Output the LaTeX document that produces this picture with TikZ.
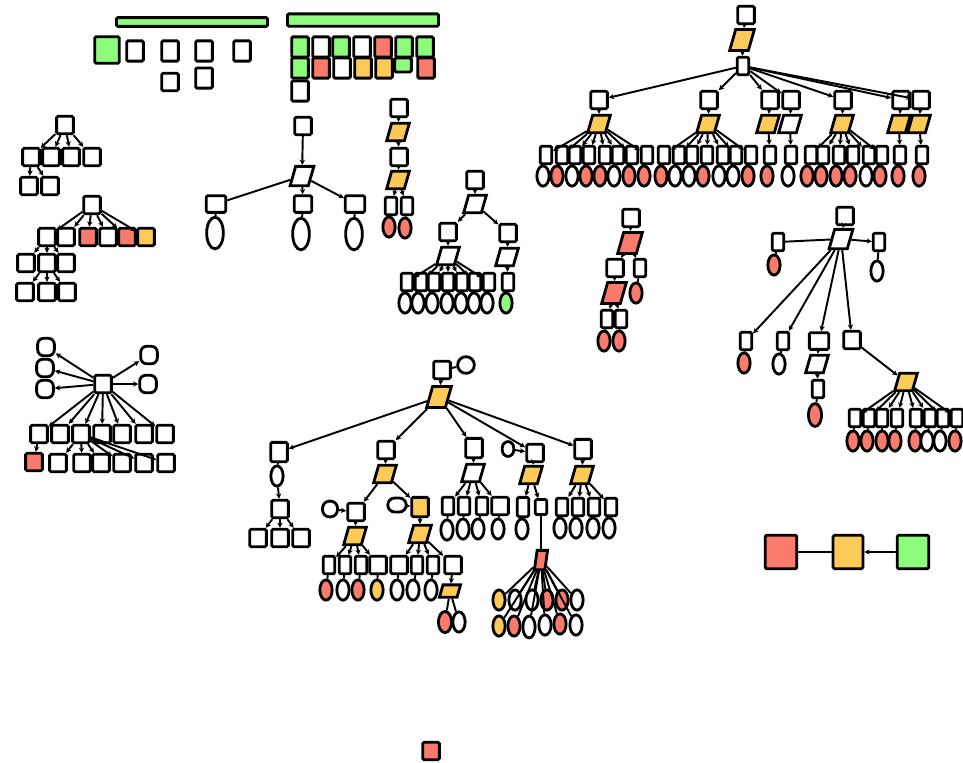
\documentclass[tikz,border=0pt]{standalone}
\usepackage{tikz}
\usetikzlibrary{shapes.geometric, arrows.meta}

\definecolor{cred}{HTML}{FA7B6C}
\definecolor{cyel}{HTML}{FDCA57}
\definecolor{cgrn}{HTML}{8CFC7A}

\tikzset{
  box/.style={draw, fill=white, line width=1.6pt, rounded corners=0.8pt, minimum width=9.5pt, minimum height=10pt, inner sep=0pt},
  nbox/.style={box, minimum width=6.5pt},
  rbox/.style={box, rounded corners=3.5pt},
  para/.style={draw, fill=white, line width=1.6pt, trapezium, trapezium left angle=74, trapezium right angle=106, minimum width=0pt, minimum height=0pt, inner xsep=3.6pt, inner ysep=5pt},
  ell/.style={draw, fill=white, line width=1.6pt, ellipse, minimum width=7pt, minimum height=11.5pt, inner sep=0pt},
  bigell/.style={ell, minimum width=9.5pt, minimum height=18pt},
  bar/.style={draw, fill=cgrn, line width=1.6pt, rounded corners=0.8pt, inner sep=0pt},
  conn/.style={line width=1.1pt, -{Stealth[length=3pt,width=3pt]}},
  plain/.style={line width=1.1pt}
}

\begin{document}
\begin{tikzpicture}[x=0.02cm, y=-0.02cm]

    \useasboundingbox (0,0) rectangle (963,762);

    % legend at the top
    \node [bar, minimum width=86pt, minimum height=5pt] (b1) at (192,22) {};
    \node [bar, minimum width=86pt, minimum height=7pt] (b2) at (363,20) {};
    \node [box, fill=cgrn, minimum width=14pt, minimum height=15pt] (a0) at (107,50) {};
    \node [box, minimum height=11.5pt] (a1) at (135,51) {};
    \node [box, minimum height=11.5pt] (a2) at (170,51) {};
    \node [box, minimum height=11.5pt] (a3) at (204,51) {};
    \node [box, minimum height=11.5pt] (a4) at (242,51) {};
    \node [box, minimum height=10pt] (a5) at (170,82) {};
    \node [box, minimum height=11.5pt] (a6) at (204,78) {};

    \node [box, fill=cgrn, minimum height=11.5pt] (s1) at (300,47) {};
    \node [box, minimum height=11.5pt] (s2) at (321,47) {};
    \node [box, fill=cgrn, minimum height=11.5pt] (s3) at (341,47) {};
    \node [box, minimum height=11.5pt] (s4) at (362,47) {};
    \node [box, fill=cred, minimum height=11.5pt] (s5) at (383,47) {};
    \node [box, fill=cgrn, minimum height=11.5pt] (s6) at (404,47) {};
    \node [box, fill=cgrn, minimum height=11.5pt] (s7) at (425,47) {};
    \node [box, fill=cgrn, minimum height=11.5pt] (s8) at (300,68) {};
    \node [box, fill=cred, minimum height=11.5pt] (s9) at (321,68) {};
    \node [box, minimum height=11.5pt] (s10) at (342,68) {};
    \node [box, fill=cyel, minimum height=11.5pt] (s11) at (363,68) {};
    \node [box, fill=cyel, minimum height=11.5pt] (s12) at (384,68) {};
    \node [box, fill=cgrn, minimum height=8pt] (s13) at (403,65) {};
    \node [box, fill=cred, minimum height=11.5pt] (s14) at (426,68) {};
    \node [box, minimum height=11.5pt] (s15) at (300,91) {};

    % top right tree
    \node [box] (t0) at (746,15) {};
    \node [para, fill=cyel, inner ysep=6pt] (t1) at (742,40) {};
    \node [nbox] (t2) at (743,66) {};

    \node [box] (ta) at (599,100) {};
    \node [box] (tb) at (709,100) {};
    \node [box] (tc) at (770,100) {};
    \node [box] (td) at (791,100) {};
    \node [box] (te) at (843,100) {};
    \node [box] (tf) at (901,100) {};
    \node [box] (tg) at (921,100) {};

    \node [para, fill=cyel] (pa) at (599,124) {};
    \node [para, fill=cyel] (pb) at (708,124) {};
    \node [para, fill=cyel] (pc) at (768,124) {};
    \node [para] (pd) at (790,124) {};
    \node [para, fill=cyel] (pe) at (842,124) {};
    \node [para, fill=cyel] (pf) at (899,124) {};
    \node [para, fill=cyel] (pg) at (919,124) {};

    \node [nbox] (u1) at (546,155) {};
    \node [nbox] (u2) at (562,155) {};
    \node [nbox] (u3) at (575,155) {};
    \node [nbox] (u4) at (589,155) {};
    \node [nbox] (u5) at (605,155) {};
    \node [nbox] (u6) at (618,155) {};
    \node [nbox] (u7) at (632,155) {};
    \node [nbox] (u8) at (647,155) {};
    \node [nbox] (u9) at (664,155) {};
    \node [nbox] (u10) at (679,155) {};
    \node [nbox] (u11) at (692,155) {};
    \node [nbox] (u12) at (707,155) {};
    \node [nbox] (u13) at (723,155) {};
    \node [nbox] (u14) at (736,155) {};
    \node [nbox] (u15) at (751,155) {};
    \node [nbox] (u16) at (770,155) {};
    \node [nbox] (u17) at (791,155) {};
    \node [nbox] (u18) at (811,155) {};
    \node [nbox] (u19) at (823,155) {};
    \node [nbox] (u20) at (839,155) {};
    \node [nbox] (u21) at (853,155) {};
    \node [nbox] (u22) at (869,155) {};
    \node [nbox] (u23) at (882,155) {};
    \node [nbox] (u24) at (900,155) {};
    \node [nbox] (u25) at (922,155) {};

    \node [ell] (v1) at (543,176) {};
    \node [ell, fill=cred] (v2) at (557,176) {};
    \node [ell] (v3) at (572,176) {};
    \node [ell, fill=cred] (v4) at (586,176) {};
    \node [ell, fill=cred] (v5) at (600,176) {};
    \node [ell] (v6) at (614,176) {};
    \node [ell, fill=cred] (v7) at (629,176) {};
    \node [ell, fill=cred] (v8) at (644,176) {};
    \node [ell, fill=cred] (v9) at (661,176) {};
    \node [ell] (v10) at (675,176) {};
    \node [ell] (v11) at (689,176) {};
    \node [ell, fill=cred] (v12) at (703,176) {};
    \node [ell] (v13) at (719,176) {};
    \node [ell] (v14) at (733,176) {};
    \node [ell, fill=cred] (v15) at (748,176) {};
    \node [ell, fill=cred] (v16) at (767,176) {};
    \node [ell] (v17) at (788,176) {};
    \node [ell, fill=cred] (v18) at (807,176) {};
    \node [ell, fill=cred] (v19) at (821,176) {};
    \node [ell, fill=cred] (v20) at (836,176) {};
    \node [ell, fill=cred] (v21) at (850,176) {};
    \node [ell] (v22) at (866,176) {};
    \node [ell, fill=cred] (v23) at (880,176) {};
    \node [ell, fill=cred] (v24) at (898,176) {};
    \node [ell, fill=cred] (v25) at (919,176) {};

    \draw [conn] (t0) to (t1);
    \draw [conn] (t1) to (t2);
    \draw [conn] (t2) to (ta);
    \draw [conn] (t2) to (tb);
    \draw [conn] (t2) to (tc);
    \draw [conn] (t2) to (td);
    \draw [conn] (t2) to (te);
    \draw [conn] (t2) to (tf);
    \draw [conn] (t2) to (tg);
    \draw [conn] (ta) to (pa);
    \draw [conn] (tb) to (pb);
    \draw [conn] (tc) to (pc);
    \draw [conn] (td) to (pd);
    \draw [conn] (te) to (pe);
    \draw [conn] (tf) to (pf);
    \draw [conn] (tg) to (pg);

    \draw [conn] (pa) to (u1);
    \draw [conn] (pa) to (u2);
    \draw [conn] (pa) to (u3);
    \draw [conn] (pa) to (u4);
    \draw [conn] (pa) to (u5);
    \draw [conn] (pa) to (u6);
    \draw [conn] (pa) to (u7);
    \draw [conn] (pa) to (u8);
    \draw [conn] (pb) to (u9);
    \draw [conn] (pb) to (u10);
    \draw [conn] (pb) to (u11);
    \draw [conn] (pb) to (u12);
    \draw [conn] (pb) to (u13);
    \draw [conn] (pb) to (u14);
    \draw [conn] (pb) to (u15);
    \draw [conn] (pc) to (u16);
    \draw [conn] (pd) to (u17);
    \draw [conn] (pe) to (u18);
    \draw [conn] (pe) to (u19);
    \draw [conn] (pe) to (u20);
    \draw [conn] (pe) to (u21);
    \draw [conn] (pe) to (u22);
    \draw [conn] (pe) to (u23);
    \draw [conn] (pf) to (u24);
    \draw [conn] (pg) to (u25);

    \draw [plain] (u1) to (v1);
    \draw [plain] (u2) to (v2);
    \draw [plain] (u3) to (v3);
    \draw [plain] (u4) to (v4);
    \draw [plain] (u5) to (v5);
    \draw [plain] (u6) to (v6);
    \draw [plain] (u7) to (v7);
    \draw [plain] (u8) to (v8);
    \draw [plain] (u9) to (v9);
    \draw [plain] (u10) to (v10);
    \draw [plain] (u11) to (v11);
    \draw [plain] (u12) to (v12);
    \draw [plain] (u13) to (v13);
    \draw [plain] (u14) to (v14);
    \draw [plain] (u15) to (v15);
    \draw [plain] (u16) to (v16);
    \draw [plain] (u17) to (v17);
    \draw [plain] (u18) to (v18);
    \draw [plain] (u19) to (v19);
    \draw [plain] (u20) to (v20);
    \draw [plain] (u21) to (v21);
    \draw [plain] (u22) to (v22);
    \draw [plain] (u23) to (v23);
    \draw [plain] (u24) to (v24);
    \draw [plain] (u25) to (v25);

    % small trees on the left
    \node [box] (c1) at (65,125) {};
    \node [box] (c2) at (31,157) {};
    \node [box] (c3) at (51,157) {};
    \node [box] (c4) at (71,157) {};
    \node [box] (c5) at (92,157) {};
    \node [box] (c6) at (29,186) {};
    \node [box] (c7) at (50,186) {};

    \draw [conn] (c1) to (c2);
    \draw [conn] (c1) to (c3);
    \draw [conn] (c1) to (c4);
    \draw [conn] (c1) to (c5);
    \draw [conn] (c2) to (c6);
    \draw [conn] (c2) to (c7);

    \node [box] (d1) at (92,205) {};
    \node [box] (d2) at (47,237) {};
    \node [box] (d3) at (66,237) {};
    \node [box, fill=cred] (d4) at (88,237) {};
    \node [box] (d5) at (108,237) {};
    \node [box, fill=cred] (d6) at (127,237) {};
    \node [box, fill=cyel] (d7) at (146,237) {};
    \node [box] (d8) at (26,263) {};
    \node [box] (d9) at (47,263) {};
    \node [box] (d10) at (66,263) {};
    \node [box] (d11) at (25,292) {};
    \node [box] (d12) at (47,292) {};
    \node [box] (d13) at (67,292) {};

    \draw [conn] (d1) to (d2);
    \draw [conn] (d1) to (d3);
    \draw [conn] (d1) to (d4);
    \draw [conn] (d1) to (d5);
    \draw [conn] (d1) to (d6);
    \draw [conn] (d1) to (d7);
    \draw [conn] (d2) to (d8);
    \draw [conn] (d2) to (d9);
    \draw [conn] (d2) to (d10);
    \draw [conn] (d9) to (d11);
    \draw [conn] (d9) to (d12);
    \draw [conn] (d9) to (d13);

    \node [box] (m0) at (103,384) {};
    \node [rbox] (m1) at (46,347) {};
    \node [rbox] (m2) at (45,368) {};
    \node [rbox] (m3) at (45,389) {};
    \node [rbox] (m4) at (149,355) {};
    \node [rbox] (m5) at (148,384) {};
    \node [box] (m6) at (39,434) {};
    \node [box] (m7) at (60,434) {};
    \node [box] (m8) at (81,434) {};
    \node [box] (m9) at (102,434) {};
    \node [box] (m10) at (122,434) {};
    \node [box] (m11) at (144,434) {};
    \node [box] (m12) at (165,434) {};
    \node [box, fill=cred] (m13) at (34,462) {};
    \node [box] (m14) at (58,463) {};
    \node [box] (m15) at (82,463) {};
    \node [box] (m16) at (101,463) {};
    \node [box] (m17) at (122,463) {};
    \node [box] (m18) at (144,463) {};
    \node [box] (m19) at (166,463) {};

    \draw [conn] (m0) to (m1);
    \draw [conn] (m0) to (m2);
    \draw [conn] (m0) to (m3);
    \draw [conn] (m0) to (m4);
    \draw [conn] (m0) to (m5);
    \draw [conn] (m0) to (m6);
    \draw [conn] (m0) to (m7);
    \draw [conn] (m0) to (m8);
    \draw [conn] (m0) to (m9);
    \draw [conn] (m0) to (m10);
    \draw [conn] (m0) to (m11);
    \draw [conn] (m0) to (m12);
    \draw [conn] (m6) to (m13);
    \draw [conn] (m8) to (m14);
    \draw [conn] (m8) to (m15);
    \draw [conn] (m8) to (m16);
    \draw [conn] (m8) to (m17);
    \draw [conn] (m8) to (m18);
    \draw [conn] (m8) to (m19);

    % middle trees
    \node [box] (e1) at (303,126) {};
    \node [para, inner ysep=5.5pt] (e2) at (302,176) {};
    \node [box, minimum width=11pt, minimum height=9.5pt] (e3) at (216,204) {};
    \node [box, minimum width=10pt, minimum height=9.5pt] (e4) at (303,204) {};
    \node [box, minimum width=11pt, minimum height=9.5pt] (e5) at (355,204) {};
    \node [bigell] (e6) at (215,233) {};
    \node [bigell] (e7) at (301,234) {};
    \node [bigell] (e8) at (354,234) {};

    \draw [conn] (e1) to (e2);
    \draw [plain] (e2) to (e3);
    \draw [conn] (e2) to (e4);
    \draw [conn] (e2) to (e5);
    \draw [plain] (e3) to (e6);
    \draw [plain] (e4) to (e7);
    \draw [plain] (e5) to (e8);

    \node [box] (f1) at (399,108) {};
    \node [para, fill=cyel] (f2) at (398,132) {};
    \node [box] (f3) at (399,157) {};
    \node [para, fill=cyel] (f4) at (398,180) {};
    \node [nbox] (f5) at (391,206) {};
    \node [nbox] (f6) at (407,206) {};
    \node [ell, fill=cred] (f7) at (389,227) {};
    \node [ell, fill=cred] (f8) at (405,228) {};

    \draw [conn] (f1) to (f2);
    \draw [conn] (f2) to (f3);
    \draw [conn] (f3) to (f4);
    \draw [conn] (f4) to (f5);
    \draw [conn] (f4) to (f6);
    \draw [plain] (f5) to (f7);
    \draw [plain] (f6) to (f8);

    \node [box] (g1) at (475,180) {};
    \node [para] (g2) at (475,204) {};
    \node [box] (g3) at (448,232) {};
    \node [box] (g4) at (508,233) {};
    \node [para] (g5) at (448,256) {};
    \node [para] (g6) at (507,257) {};
    \node [nbox] (g7) at (407,282) {};
    \node [nbox] (g8) at (421,282) {};
    \node [nbox] (g9) at (434,282) {};
    \node [nbox] (g10) at (448,282) {};
    \node [nbox] (g11) at (462,282) {};
    \node [nbox] (g12) at (475,282) {};
    \node [nbox] (g13) at (489,282) {};
    \node [nbox] (g14) at (508,282) {};
    \node [ell] (g15) at (405,303) {};
    \node [ell] (g16) at (418,303) {};
    \node [ell] (g17) at (432,303) {};
    \node [ell] (g18) at (447,303) {};
    \node [ell] (g19) at (461,303) {};
    \node [ell] (g20) at (474,303) {};
    \node [ell] (g21) at (487,303) {};
    \node [ell, fill=cgrn] (g22) at (506,303) {};

    \draw [conn] (g1) to (g2);
    \draw [conn] (g2) to (g3);
    \draw [conn] (g2) to (g4);
    \draw [conn] (g3) to (g5);
    \draw [conn] (g4) to (g6);
    \draw [conn] (g5) to (g7);
    \draw [conn] (g5) to (g8);
    \draw [conn] (g5) to (g9);
    \draw [conn] (g5) to (g10);
    \draw [conn] (g5) to (g11);
    \draw [conn] (g5) to (g12);
    \draw [conn] (g5) to (g13);
    \draw [conn] (g6) to (g14);
    \draw [plain] (g7) to (g15);
    \draw [plain] (g8) to (g16);
    \draw [plain] (g9) to (g17);
    \draw [plain] (g10) to (g18);
    \draw [plain] (g11) to (g19);
    \draw [plain] (g12) to (g20);
    \draw [plain] (g13) to (g21);
    \draw [plain] (g14) to (g22);

    \node [box] (h1) at (631,218) {};
    \node [para, fill=cred, inner ysep=6pt] (h2) at (630,243) {};
    \node [box] (h3) at (615,268) {};
    \node [nbox] (h4) at (640,268) {};
    \node [para, fill=cred, inner ysep=6pt] (h5) at (614,293) {};
    \node [ell, fill=cred] (h6) at (636,293) {};
    \node [nbox] (h7) at (607,319) {};
    \node [nbox] (h8) at (621,319) {};
    \node [ell, fill=cred] (h9) at (604,341) {};
    \node [ell, fill=cred] (h10) at (619,341) {};

    \draw [conn] (h1) to (h2);
    \draw [conn] (h2) to (h3);
    \draw [conn] (h2) to (h4);
    \draw [conn] (h3) to (h5);
    \draw [plain] (h4) to (h6);
    \draw [conn] (h5) to (h7);
    \draw [conn] (h5) to (h8);
    \draw [plain] (h7) to (h9);
    \draw [plain] (h8) to (h10);

    % right tree
    \node [box] (r1) at (845,216) {};
    \node [para, inner ysep=5.5pt] (r2) at (841,239) {};
    \node [nbox] (r3) at (778,242) {};
    \node [ell, fill=cred] (r4) at (774,265) {};
    \node [nbox] (r5) at (879,242) {};
    \node [ell] (r6) at (877,271) {};
    \node [nbox] (r7) at (746,341) {};
    \node [nbox] (r8) at (783,341) {};
    \node [box, minimum width=11pt, minimum height=9.5pt] (r9) at (819,341) {};
    \node [box] (r10) at (852,340) {};
    \node [ell, fill=cred] (r11) at (744,363) {};
    \node [ell] (r12) at (779,364) {};
    \node [para] (r13) at (817,364) {};
    \node [nbox] (r14) at (818,389) {};
    \node [ell, fill=cred, minimum width=7.5pt, minimum height=13pt] (r15) at (815,415) {};
    \node [para, fill=cyel] (r16) at (906,382) {};
    \node [nbox] (r17) at (855,418) {};
    \node [nbox] (r18) at (869,418) {};
    \node [nbox] (r19) at (882,418) {};
    \node [nbox] (r20) at (897,418) {};
    \node [nbox] (r21) at (916,418) {};
    \node [nbox] (r22) at (930,418) {};
    \node [nbox] (r23) at (943,418) {};
    \node [nbox] (r24) at (957,418) {};
    \node [ell, fill=cred] (r25) at (853,441) {};
    \node [ell, fill=cred] (r26) at (867,441) {};
    \node [ell, fill=cred] (r27) at (882,441) {};
    \node [ell, fill=cred] (r28) at (895,441) {};
    \node [ell, fill=cred] (r29) at (915,441) {};
    \node [ell] (r30) at (927,441) {};
    \node [ell] (r31) at (940,441) {};
    \node [ell, fill=cred] (r32) at (955,441) {};

    \draw [conn] (r1) to (r2);
    \draw [plain] (r2) to (r3);
    \draw [conn] (r2) to (r5);
    \draw [conn] (r2) to (r7);
    \draw [conn] (r2) to (r8);
    \draw [conn] (r2) to (r9);
    \draw [conn] (r2) to (r10);
    \draw [plain] (r3) to (r4);
    \draw [plain] (r5) to (r6);
    \draw [plain] (r7) to (r11);
    \draw [plain] (r8) to (r12);
    \draw [conn] (r9) to (r13);
    \draw [conn] (r13) to (r14);
    \draw [plain] (r14) to (r15);
    \draw [conn] (r10) to (r16);
    \draw [conn] (r16) to (r17);
    \draw [conn] (r16) to (r18);
    \draw [conn] (r16) to (r19);
    \draw [conn] (r16) to (r20);
    \draw [conn] (r16) to (r21);
    \draw [conn] (r16) to (r22);
    \draw [conn] (r16) to (r23);
    \draw [conn] (r16) to (r24);
    \draw [plain] (r17) to (r25);
    \draw [plain] (r18) to (r26);
    \draw [plain] (r19) to (r27);
    \draw [plain] (r20) to (r28);
    \draw [plain] (r21) to (r29);
    \draw [plain] (r22) to (r30);
    \draw [plain] (r23) to (r31);
    \draw [plain] (r24) to (r32);

    % big tree in the middle
    \node [box] (j0) at (442,370) {};
    \node [draw, fill=white, line width=1.6pt, circle, minimum size=9.5pt, inner sep=0pt] (j1) at (466,365) {};
    \node [para, fill=cyel, inner ysep=6pt] (j2) at (439,397) {};
    \node [box, minimum height=11pt] (j3) at (279,452) {};
    \node [box] (j4) at (386,450) {};
    \node [box, minimum height=11pt] (j5) at (474,448) {};
    \node [box] (j6) at (535,453) {};
    \node [box, minimum height=11pt] (j7) at (583,449) {};
    \node [rbox, minimum width=6.5pt, minimum height=8.5pt] (j8) at (508,449) {};

    \draw [conn] (j0) to (j2);
    \draw [plain] (j1) to (j0);
    \draw [conn] (j2) to (j3);
    \draw [conn] (j2) to (j4);
    \draw [conn] (j2) to (j5);
    \draw [conn] (j2) to (j6);
    \draw [conn] (j2) to (j7);
    \draw [conn] (j8) to (j6);

    \node [ell] (j9) at (277,476) {};
    \node [box] (j10) at (280,509) {};
    \node [box] (j11) at (258,538) {};
    \node [box] (j12) at (280,538) {};
    \node [box] (j13) at (301,538) {};

    \draw [plain] (j3) to (j9);
    \draw [conn] (j9) to (j10);
    \draw [conn] (j10) to (j11);
    \draw [conn] (j10) to (j12);
    \draw [conn] (j10) to (j13);

    \node [para, fill=cyel] (j14) at (385,474) {};
    \node [box] (j15) at (356,512) {};
    \node [box, fill=cyel, minimum height=11pt] (j16) at (420,507) {};
    \node [rbox, rounded corners=4pt, minimum width=8.5pt, minimum height=9pt] (j17) at (330,509) {};
    \node [rbox, rounded corners=4pt, minimum width=10.5pt, minimum height=8pt] (j18) at (397,505) {};
    \node [para, fill=cyel] (j19) at (355,536) {};
    \node [para, fill=cyel] (j20) at (420,534) {};
    \node [nbox] (j21) at (329,565) {};
    \node [nbox] (j22) at (345,565) {};
    \node [nbox] (j23) at (361,565) {};
    \node [box] (j24) at (378,565) {};
    \node [ell, fill=cred] (j25) at (326,590) {};
    \node [ell] (j26) at (343,590) {};
    \node [ell, fill=cred] (j27) at (358,590) {};
    \node [ell, fill=cyel] (j28) at (377,590) {};
    \node [box] (j29) at (399,565) {};
    \node [nbox] (j30) at (417,565) {};
    \node [nbox] (j31) at (433,565) {};
    \node [box] (j32) at (453,565) {};
    \node [ell] (j33) at (397,590) {};
    \node [ell] (j34) at (413,590) {};
    \node [ell] (j35) at (431,590) {};
    \node [para, fill=cyel, inner ysep=3.5pt, inner xsep=4pt] (j36) at (450,591) {};
    \node [ell, fill=cred, minimum width=7.5pt, minimum height=12pt] (j37) at (445,622) {};
    \node [ell] (j38) at (459,622) {};

    \draw [conn] (j4) to (j14);
    \draw [conn] (j14) to (j15);
    \draw [conn] (j14) to (j16);
    \draw [conn] (j17) to (j15);
    \draw [conn] (j18) to (j16);
    \draw [conn] (j15) to (j19);
    \draw [conn] (j16) to (j20);
    \draw [conn] (j19) to (j21);
    \draw [conn] (j19) to (j22);
    \draw [conn] (j19) to (j23);
    \draw [conn] (j19) to (j24);
    \draw [plain] (j21) to (j25);
    \draw [plain] (j22) to (j26);
    \draw [plain] (j23) to (j27);
    \draw [plain] (j24) to (j28);
    \draw [conn] (j20) to (j29);
    \draw [conn] (j20) to (j30);
    \draw [conn] (j20) to (j31);
    \draw [conn] (j20) to (j32);
    \draw [plain] (j29) to (j33);
    \draw [plain] (j30) to (j34);
    \draw [plain] (j31) to (j35);
    \draw [conn] (j32) to (j36);
    \draw [plain] (j36) to (j37);
    \draw [plain] (j36) to (j38);

    \node [para] (j39) at (473,473) {};
    \node [nbox] (j40) at (448,506) {};
    \node [nbox] (j41) at (464,506) {};
    \node [nbox] (j42) at (482,506) {};
    \node [box] (j43) at (500,506) {};
    \node [ell] (j44) at (447,530) {};
    \node [ell] (j45) at (463,529) {};
    \node [ell] (j46) at (478,529) {};
    \node [ell] (j47) at (498,529) {};

    \draw [conn] (j5) to (j39);
    \draw [conn] (j39) to (j40);
    \draw [conn] (j39) to (j41);
    \draw [conn] (j39) to (j42);
    \draw [conn] (j39) to (j43);
    \draw [plain] (j40) to (j44);
    \draw [plain] (j41) to (j45);
    \draw [plain] (j42) to (j46);
    \draw [plain] (j43) to (j47);

    \node [para, fill=cyel] (j48) at (531,475) {};
    \node [nbox, minimum height=11pt] (j49) at (523,507) {};
    \node [nbox, minimum height=8.5pt] (j50) at (541,507) {};
    \node [ell] (j51) at (522,529) {};
    \node [para, fill=cred, trapezium left angle=82, trapezium right angle=98, inner xsep=2.2pt, inner ysep=5.5pt] (j52) at (541,560) {};
    \node [ell, fill=cyel] (j53) at (499,600) {};
    \node [ell] (j54) at (515,600) {};
    \node [ell] (j55) at (532,600) {};
    \node [ell, fill=cred] (j56) at (547,600) {};
    \node [ell, fill=cred] (j57) at (562,600) {};
    \node [ell] (j58) at (577,600) {};
    \node [ell, fill=cyel] (j59) at (499,626) {};
    \node [ell, fill=cred] (j60) at (514,626) {};
    \node [ell, minimum height=12.5pt] (j61) at (529,627) {};
    \node [ell] (j62) at (545,625) {};
    \node [ell, fill=cred] (j63) at (560,624) {};
    \node [ell] (j64) at (576,625) {};

    \draw [conn] (j6) to (j48);
    \draw [conn] (j48) to (j49);
    \draw [conn] (j48) to (j50);
    \draw [plain] (j49) to (j51);
    \draw [plain] (j50) to (j52);
    \draw [plain] (j52) to (j53);
    \draw [plain] (j52) to (j54);
    \draw [plain] (j52) to (j55);
    \draw [plain] (j52) to (j56);
    \draw [plain] (j52) to (j57);
    \draw [plain] (j52) to (j58);
    \draw [plain] (j52) to (j59);
    \draw [plain] (j52) to (j60);
    \draw [plain] (j52) to (j61);
    \draw [plain] (j52) to (j62);
    \draw [plain] (j52) to (j63);
    \draw [plain] (j52) to (j64);

    \node [para, fill=cyel] (j65) at (582,475) {};
    \node [nbox] (j66) at (562,507) {};
    \node [nbox] (j67) at (578,507) {};
    \node [nbox] (j68) at (594,507) {};
    \node [nbox] (j69) at (611,507) {};
    \node [ell] (j70) at (560,528) {};
    \node [ell] (j71) at (576,528) {};
    \node [ell] (j72) at (593,528) {};
    \node [ell] (j73) at (609,528) {};

    \draw [conn] (j7) to (j65);
    \draw [conn] (j65) to (j66);
    \draw [conn] (j65) to (j67);
    \draw [conn] (j65) to (j68);
    \draw [conn] (j65) to (j69);
    \draw [plain] (j66) to (j70);
    \draw [plain] (j67) to (j71);
    \draw [plain] (j68) to (j72);
    \draw [plain] (j69) to (j73);

    % colour key
    \node [box, fill=cred, minimum width=18pt, minimum height=19pt] (k1) at (781,552) {};
    \node [box, fill=cyel, minimum width=17pt, minimum height=19pt] (k2) at (848,552) {};
    \node [box, fill=cgrn, minimum width=18pt, minimum height=19pt] (k3) at (913,552) {};

    \draw [plain] (k1) to (k2);
    \draw [conn] (k3) to (k2);

    \node [box, fill=cred] (z1) at (431,751) {};

  \end{tikzpicture}
\end{document}
